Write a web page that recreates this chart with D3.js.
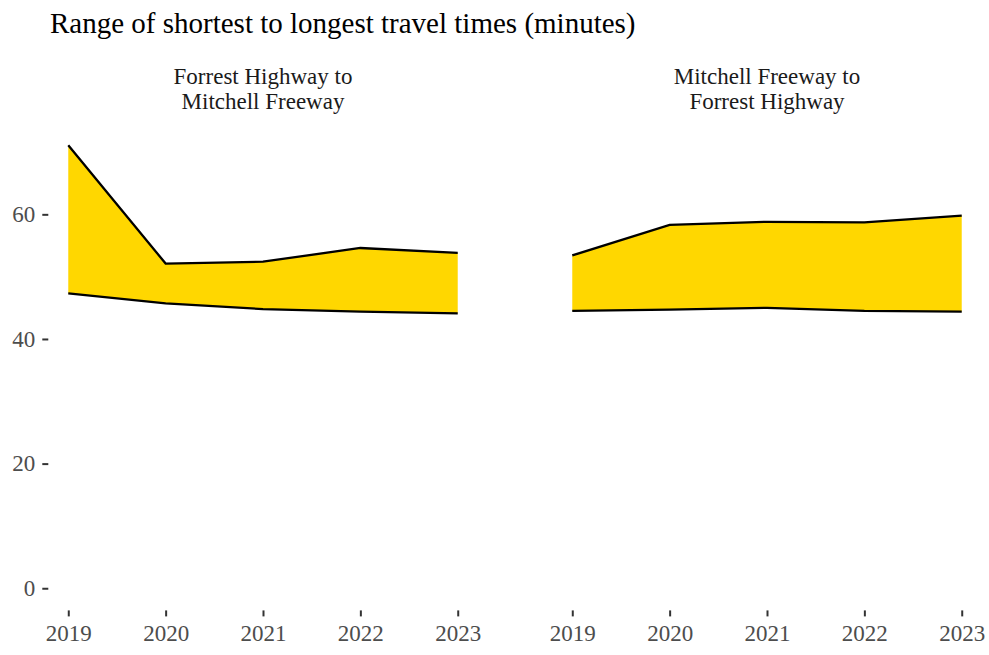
<!DOCTYPE html>
<html>
<head>
<meta charset="utf-8">
<script src="https://cdn.jsdelivr.net/npm/d3@7"></script>
<style>
  html, body { margin: 0; padding: 0; background: #fff; }
  svg { display: block; }
</style>
</head>
<body>
<svg id="chart" width="989" height="655"></svg>
<script>
const years = [2019, 2020, 2021, 2022, 2023];
const panelTitles = [["Forrest Highway to", "Mitchell Freeway"], ["Mitchell Freeway to", "Forrest Highway"]];
const leftMin = [47.3, 45.7, 44.8, 44.4, 44.1];
const leftMax = [71.1, 52.1, 52.4, 54.6, 53.8];
const rightMin = [44.5, 44.7, 45.0, 44.5, 44.4];
const rightMax = [53.4, 58.3, 58.8, 58.7, 59.8];
const yTicks = [0, 20, 40, 60];
const title = "Range of shortest to longest travel times (minutes)";

const panels = [
  { labels: panelTitles[0], min: leftMin, max: leftMax, x0: 48.8, x1: 477.2 },
  { labels: panelTitles[1], min: rightMin, max: rightMax, x0: 552.8, x1: 981.2 }
];

const svg = d3.select("#chart");
const font = "'Liberation Serif', 'Times New Roman', serif";
const panelTop = 123, panelBottom = 610.4;

const allVals = leftMax.concat(rightMax);
const yMaxData = d3.max(allVals);
const yPad = (yMaxData - 0) * 0.05;
const y = d3.scaleLinear().domain([0 - yPad, yMaxData + yPad]).range([panelBottom, panelTop]);

svg.append("text")
  .attr("x", 50).attr("y", 32.5)
  .attr("font-family", font).attr("font-size", 29).attr("fill", "#000")
  .text(title);

// y axis (left panel only)
const yAxisG = svg.append("g").attr("transform", `translate(${panels[0].x0 - 0.5},0)`);
yAxisG.call(d3.axisLeft(y).tickValues(yTicks).tickSize(6).tickPadding(7));
yAxisG.select(".domain").remove();
yAxisG.selectAll(".tick line").attr("stroke", "#333").attr("stroke-width", 2);
yAxisG.selectAll(".tick text").attr("font-family", font).attr("font-size", 23).attr("fill", "#4d4d4d");

panels.forEach(p => {
  const xPad = (2023 - 2019) * 0.05;
  const x = d3.scaleLinear().domain([2019 - xPad, 2023 + xPad]).range([p.x0, p.x1]);
  const data = years.map((yr, i) => ({ yr, lo: p.min[i], hi: p.max[i] }));

  const area = d3.area().x(d => x(d.yr)).y0(d => y(d.lo)).y1(d => y(d.hi));
  svg.append("path").datum(data).attr("d", area).attr("fill", "#FFD700").attr("stroke", "none");
  const lineHi = d3.line().x(d => x(d.yr)).y(d => y(d.hi));
  const lineLo = d3.line().x(d => x(d.yr)).y(d => y(d.lo));
  svg.append("path").datum(data).attr("d", lineHi).attr("fill", "none").attr("stroke", "#000").attr("stroke-width", 2.3);
  svg.append("path").datum(data).attr("d", lineLo).attr("fill", "none").attr("stroke", "#000").attr("stroke-width", 2.3);

  const xAxisG = svg.append("g").attr("transform", `translate(0,${panelBottom})`);
  xAxisG.call(d3.axisBottom(x).tickValues(years).tickFormat(d3.format("d")).tickSize(6).tickPadding(8));
  xAxisG.select(".domain").remove();
  xAxisG.selectAll(".tick line").attr("stroke", "#333").attr("stroke-width", 2);
  xAxisG.selectAll(".tick text").attr("font-family", font).attr("font-size", 23).attr("fill", "#4d4d4d");

  const cx = (p.x0 + p.x1) / 2;
  const st = svg.append("text").attr("text-anchor", "middle")
    .attr("font-family", font).attr("font-size", 23).attr("fill", "#1a1a1a");
  p.labels.forEach((l, i) => {
    st.append("tspan").attr("x", cx).attr("y", 83.5 + i * 25.7).text(l);
  });
});
</script>
</body>
</html>
